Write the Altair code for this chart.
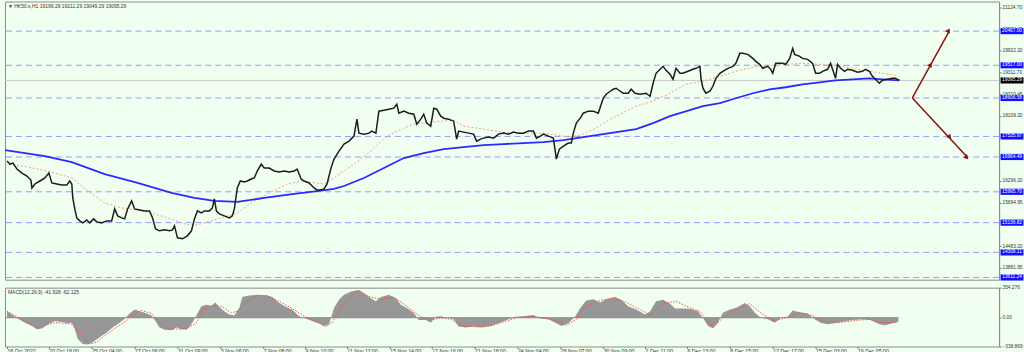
import altair as alt
import pandas as pd

# ---------------- data ----------------
price_x = [2, 5, 8, 12, 17, 22, 26, 27, 30, 35, 40, 44, 47, 52, 57, 62, 65, 67, 68, 70, 72, 75, 78, 82, 85, 89,
           92, 97, 102, 107, 110, 113, 117, 120, 123, 127, 130, 135, 140, 145, 148, 151, 155, 160, 165, 168, 170,
           173, 178, 183, 187, 190, 193, 197, 200, 205, 208, 210, 212, 215, 220, 225, 228, 230, 233, 236, 240,
           243, 247, 250, 253, 257, 260, 265, 270, 275, 280, 285, 290, 293, 297, 300, 305, 310, 313, 317, 320,
           323, 327, 330, 335, 340, 345, 350, 353, 355, 360, 365, 368, 372, 375, 380, 385, 390, 393, 395, 400,
           405, 410, 413, 417, 420, 423, 427, 430, 433, 437, 440, 445, 450, 453, 455, 460, 465, 470, 473, 477,
           480, 485, 490, 495, 500, 505, 510, 515, 520, 525, 530, 533, 537, 540, 545, 550, 553, 556, 560, 565,
           568, 570, 573, 577, 580, 585, 590, 595, 598, 600, 603, 607, 610, 613, 617, 620, 625, 628, 632, 637,
           643, 647, 650, 653, 657, 660, 663, 667, 670, 673, 677, 680, 685, 690, 693, 697, 698, 700, 703, 707,
           710, 713, 717, 720, 725, 730, 733, 737, 740, 745, 750, 753, 757, 760, 765, 768, 770, 773, 777, 780,
           783, 787, 790, 792, 797, 800, 805, 810, 813, 817, 820, 825, 828, 830, 833, 835, 838, 842, 845, 850,
           855, 860, 863, 867, 870, 873, 877, 880, 885, 890, 893, 897]
price_v = [16851, 16768, 16795, 16629, 16518, 16435, 16324, 16102, 16213, 16296, 16379, 16518, 16241, 16213,
           16185, 16185, 16296, 16213, 15824, 15519, 15269, 15186, 15131, 15214, 15131, 15242, 15158, 15131,
           15186, 15186, 15519, 15325, 15269, 15242, 15519, 15741, 15519, 15491, 15464, 15464, 15269, 14964,
           14909, 14936, 14909, 14936, 15047, 14714, 14687, 14770, 14909, 15242, 15464, 15408, 15464, 15464,
           15547, 15797, 15464, 15380, 15325, 15269, 15325, 15519, 16102, 16296, 16268, 16296, 16352, 16379,
           16574, 16768, 16657, 16657, 16574, 16546, 16574, 16546, 16574, 16629, 16352, 16296, 16241, 16102,
           16046, 16046, 16074, 16213, 16657, 16907, 17129, 17323, 17406, 17545, 18017, 17628, 17600, 17628,
           17684, 17628, 18239, 18266, 18294, 18322, 18433, 18183, 18239, 18183, 18155, 17878, 18017, 18155,
           17906, 17822, 18322, 18294, 18100, 18044, 18017, 17961, 17462, 17684, 17656, 17628, 17600, 17406,
           17462, 17489, 17517, 17489, 17600, 17628, 17600, 17656, 17628, 17628, 17684, 17684, 17489, 17545,
           17600, 17545, 17489, 16907, 17184, 17267, 17351, 17351, 17628, 17906, 18044, 18183, 18239, 18239,
           18183, 18433, 18599, 18710, 18794, 18849, 18877, 18794, 18738, 18738, 18849, 18738, 18710, 18738,
           18655, 19016, 19293, 19404, 19487, 19376, 19265, 19127, 19432, 19293, 19293, 19349, 19404, 19432,
           19487, 19154, 18877, 18738, 18794, 18932, 19154, 19293, 19349, 19432, 19487, 19571, 19848, 19848,
           19820, 19709, 19626, 19543, 19432, 19487, 19404, 19293, 19571, 19571, 19571, 19543, 19709, 19987,
           19820, 19765, 19709, 19682, 19571, 19293, 19293, 19349, 19404, 19571, 19404, 19154, 19543, 19432,
           19349, 19404, 19376, 19321, 19349, 19404, 19349, 19210, 19127, 19016, 19099, 19127, 19154, 19154,
           19095.29]

ma200_x = [0, 40, 67, 100, 133, 167, 190, 210, 233, 260, 290, 315, 330, 340, 360, 380, 400, 420, 440, 460, 480,
           500, 540, 560, 580, 600, 633, 650, 667, 700, 717, 733, 750, 767, 783, 800, 817, 833, 850, 867, 880, 897]
ma200_v = [17156, 16990, 16823, 16490, 16241, 15963, 15824, 15741, 15713, 15824, 15935, 16019, 16074, 16157,
           16379, 16657, 16934, 17073, 17184, 17240, 17295, 17323, 17378, 17434, 17517, 17600, 17739, 17906,
           18100, 18377, 18461, 18599, 18738, 18849, 18905, 18988, 19043, 19099, 19127, 19154, 19127, 19099]

ma50_x = [0, 17, 33, 50, 67, 83, 100, 117, 133, 150, 167, 183, 193, 200, 217, 233, 250, 267, 283, 297, 320, 333,
          350, 367, 383, 400, 410, 420, 437, 450, 460, 480, 500, 520, 540, 553, 567, 580, 593, 607, 617, 633, 650,
          667, 683, 700, 717, 733, 750, 767, 783, 800, 817, 833, 850, 867, 880, 893]
ma50_v = [16768, 16712, 16629, 16518, 16379, 16019, 15686, 15547, 15491, 15380, 15242, 15075, 15075, 15131,
          15269, 15408, 15741, 15991, 16213, 16296, 16213, 16435, 16768, 17129, 17545, 17767, 17878, 17906,
          17961, 17989, 17822, 17739, 17656, 17628, 17628, 17573, 17517, 17600, 17767, 18017, 18155, 18377,
          18516, 18738, 18988, 19071, 19210, 19349, 19460, 19515, 19543, 19571, 19543, 19515, 19432, 19349,
          19293, 19238]

macd_x = [2, 7, 13, 20, 27, 32, 37, 43, 50, 57, 63, 67, 70, 73, 78, 83, 88, 95, 102, 108, 115, 120, 125, 130,
          135, 140, 147, 152, 155, 160, 167, 172, 177, 182, 187, 192, 197, 202, 207, 211, 215, 220, 225, 230,
          235, 238, 245, 253, 262, 268, 275, 282, 288, 295, 302, 308, 315, 320, 325, 330, 335, 340, 347, 355,
          360, 367, 372, 377, 385, 392, 397, 403, 410, 415, 422, 427, 432, 437, 443, 450, 455, 462, 470, 478,
          487, 495, 503, 512, 520, 530, 537, 545, 552, 558, 565, 572, 577, 583, 590, 597, 603, 612, 618, 625,
          633, 642, 647, 653, 660, 667, 672, 680, 688, 695, 700, 705, 710, 715, 720, 727, 733, 742, 747, 752,
          758, 765, 772, 778, 785, 790, 797, 805, 812, 818, 825, 832, 840, 850, 860, 868, 877, 883, 890, 896]
macd_v = [77, 38, -12, -58, -96, -135, -127, -77, -38, -50, -65, -58, -135, -250, -308, -316, -289, -231, -173,
          -116, -58, -12, 50, 96, 77, 58, 27, -58, -116, -142, -146, -116, -135, -142, -77, 27, 135, 154, 142,
          181, 127, 77, 38, 27, 116, 243, 262, 270, 266, 243, 173, 127, 96, 19, -12, -38, -69, -96, -77, 116,
          212, 270, 308, 327, 289, 231, 193, 243, 270, 231, 154, 116, 58, -27, -27, -58, 12, 19, 0, -19, -104,
          -116, -104, -116, -96, -65, -27, 12, 19, 31, -12, -19, -58, -96, -65, 19, 116, 204, 219, 181, 219,
          243, 212, 135, 96, 38, 77, 193, 212, 166, 108, 108, 104, 77, 0, -96, -123, -58, 58, 96, 116, 173,
          135, 58, 0, -19, -58, 0, 12, 85, 65, 50, -19, -58, -77, -65, -46, -27, -19, -27, -77, -88, -65, -50]

signal_x = [2, 10, 20, 32, 40, 50, 60, 68, 77, 85, 92, 100, 110, 120, 128, 137, 147, 155, 163, 173, 183, 192,
            200, 208, 217, 227, 233, 242, 253, 263, 273, 287, 300, 313, 322, 328, 337, 347, 353, 367, 377, 390,
            403, 417, 428, 437, 447, 458, 473, 487, 500, 513, 527, 540, 553, 563, 573, 583, 597, 610, 623, 637,
            647, 660, 673, 687, 697, 710, 720, 733, 747, 760, 772, 783, 797, 810, 820, 837, 853, 867, 880, 893]
signal_v = [77, 27, -38, -116, -88, -58, -65, -77, -193, -308, -289, -212, -127, -50, 38, 85, 50, -58, -127,
            -135, -127, -58, 96, 142, 135, 58, 77, 193, 258, 258, 204, 116, 19, -50, -104, -58, 116, 250, 320,
            243, 219, 243, 135, 12, -27, 0, -19, -96, -108, -96, -50, 0, 19, 0, -38, -88, -19, 135, 204, 231,
            181, 96, 27, 166, 193, 116, 77, -116, 0, 88, 166, 38, -38, 0, 58, 27, -38, -58, -31, -19, -58, -58]

levels = [20467.00, 19517.00, 18606.58, 17535.97, 16964.49, 15995.70, 15136.82, 14309.11, 13611.24]
price_ticks = [21124.70, 20523.45, 19922.20, 19311.70, 18710.45, 18109.20, 16296.20, 15694.95, 14483.20, 13881.95]
last_price = [19095.29]

time_pos = [2, 44, 87, 130, 173, 216, 259, 301, 343, 386, 428, 471, 514, 557, 600, 642, 684, 727, 770, 813, 855]
time_labels = ["18 Oct 2022", "20 Oct 18:00", "25 Oct 04:00", "27 Oct 06:00", "31 Oct 09:00", "3 Nov 06:00",
               "7 Nov 08:00", "9 Nov 10:00", "11 Nov 12:00", "15 Nov 14:00", "17 Nov 16:00", "21 Nov 18:00",
               "24 Nov 04:00", "28 Nov 07:00", "30 Nov 09:00", "2 Dec 11:00", "6 Dec 13:00", "8 Dec 15:00",
               "12 Dec 17:00", "15 Dec 03:00", "19 Dec 05:00"]

arrow_id = ["up", "up", "down", "down"]
arrow_x = [910, 947, 910, 965]
arrow_v = [18606.58, 20467.00, 18606.58, 16964.49]
head_x = [928, 946, 947, 964]
head_v = [19517.00, 20467.00, 17535.97, 16964.49]
head_angle = [30, 30, 137, 137]

title_text = "\u25BC HK50.s,H1  19199.29 19211.29 19049.29 19095.29"
macd_text = "MACD(12,26,9) -41.928 -62.125"

# ---------------- chart ----------------
BG = "#f0fff0"
FONT = "Liberation Sans"
W = 997
X_DOM = [0, 997]
P_DOM = [13549, 21291]
M_DOM = [-338.869, 354.276]

xs = alt.Scale(domain=X_DOM, nice=False, zero=False)
ps = alt.Scale(domain=P_DOM, nice=False, zero=False)
ms = alt.Scale(domain=M_DOM, nice=False, zero=False)

df_price = pd.DataFrame({"x": price_x, "v": price_v})
df_ma200 = pd.DataFrame({"x": ma200_x, "v": ma200_v})
df_ma50 = pd.DataFrame({"x": ma50_x, "v": ma50_v})
df_lv = pd.DataFrame({"v": levels, "t": [f"{v:.2f}" for v in levels]})
df_last = pd.DataFrame({"v": last_price, "t": [f"{v:.2f}" for v in last_price]})
df_arrow = pd.DataFrame({"id": arrow_id, "x": arrow_x, "v": arrow_v})
df_head = pd.DataFrame({"x": head_x, "v": head_v, "a": head_angle})

yaxis_price = alt.Axis(orient="right", values=price_ticks, format=".2f", grid=False, tickSize=2,
                       tickColor="#777", domainColor="#8c8c8c", labelFontSize=4.8, labelFont=FONT,
                       labelColor="#333", labelPadding=1, title=None, labelOverlap=False)

X = alt.X("x:Q", scale=xs, axis=None)
Y = alt.Y("v:Q", scale=ps, axis=yaxis_price)

box_path = "M-1,-0.27L1,-0.27L1,0.27L-1,0.27Z"

lv_rules = alt.Chart(df_lv).mark_rule(color="#9a9aff", strokeDash=[6, 4], strokeWidth=1).encode(y=Y)
last_rule = alt.Chart(df_last).mark_rule(color="#c9c9c9", strokeWidth=1).encode(y=Y)
ma50 = alt.Chart(df_ma50).mark_line(color="#f2a07e", strokeDash=[2, 2], strokeWidth=1).encode(x=X, y=Y)
ma200 = alt.Chart(df_ma200).mark_line(color="#2a2aff", strokeWidth=1.8).encode(x=X, y=Y)
price = alt.Chart(df_price).mark_line(color="#1c1c1c", strokeWidth=1.5).encode(x=X, y=Y)
arrows = alt.Chart(df_arrow).mark_line(color="#8b1010", strokeWidth=1.5).encode(x=X, y=Y, detail="id:N")
heads = alt.Chart(df_head).mark_point(shape="triangle", filled=True, size=28, color="#8b1010", opacity=1).encode(
    x=X, y=Y, angle=alt.Angle("a:Q", scale=None))
lv_box = alt.Chart(df_lv).mark_point(shape=box_path, size=529, filled=True, color="#1010ff", opacity=1).encode(
    x=alt.value(1010), y=Y)
lv_txt = alt.Chart(df_lv).mark_text(color="white", fontSize=4.8, font=FONT, align="center", baseline="middle").encode(
    x=alt.value(1010), y=Y, text="t:N")
last_box = alt.Chart(df_last).mark_point(shape=box_path, size=529, filled=True, color="#000000", opacity=1).encode(
    x=alt.value(1010), y=Y)
last_txt = alt.Chart(df_last).mark_text(color="white", fontSize=4.8, font=FONT, align="center", baseline="middle").encode(
    x=alt.value(1010), y=Y, text="t:N")
title = alt.Chart(pd.DataFrame({"t": [title_text]})).mark_text(
    align="left", baseline="middle", fontSize=5, font=FONT, color="#333").encode(
    x=alt.value(3), y=alt.value(5), text="t:N")

price_panel = alt.layer(lv_rules, last_rule, ma50, ma200, price, arrows, heads,
                        lv_box, lv_txt, last_box, last_txt, title).properties(width=W, height=279)

label_expr = "[" + ",".join(f"'{t}'" for t in time_labels) + "][indexof([" + ",".join(
    str(p) for p in time_pos) + "], datum.value)]"
xaxis_time = alt.Axis(orient="bottom", values=time_pos, labelExpr=label_expr, grid=False, tickSize=2,
                      tickColor="#777", domain=False, labelFontSize=5.2, labelFont=FONT, labelColor="#333",
                      labelAlign="left", labelBaseline="top", labelPadding=0, labelFlush=False,
                      labelOverlap=False, title=None)
yaxis_macd = alt.Axis(orient="right", values=[354.276, 0, -338.869],
                      labelExpr="datum.value == 0 ? '0.00' : format(datum.value, '.3f')",
                      grid=False, tickSize=2, tickColor="#777", domainColor="#8c8c8c", labelFontSize=4.8,
                      labelFont=FONT, labelColor="#333", labelPadding=1, title=None, labelOverlap=False)

MX = alt.X("x:Q", scale=xs, axis=xaxis_time)
MY = alt.Y("v:Q", scale=ms, axis=yaxis_macd)

df_macd = pd.DataFrame({"x": macd_x, "v": macd_v})
df_sig = pd.DataFrame({"x": signal_x, "v": signal_v})
df_zero = pd.DataFrame({"x": [0], "x2": [macd_x[-1]], "v": [0]})

hist = alt.Chart(df_macd).mark_area(color="#979797", opacity=1).encode(
    x=MX, y=MY, y2=alt.datum(0))
zero = alt.Chart(df_zero).mark_rule(color="#8a8a8a", strokeWidth=1).encode(x=MX, x2="x2:Q", y=MY)
sig = alt.Chart(df_sig).mark_line(color="#ff4a4a", strokeDash=[1.5, 1.5], strokeWidth=1).encode(x=MX, y=MY)
mtitle = alt.Chart(pd.DataFrame({"t": [macd_text]})).mark_text(
    align="left", baseline="middle", fontSize=5, font=FONT, color="#333").encode(
    x=alt.value(3), y=alt.value(4), text="t:N")

macd_panel = alt.layer(hist, zero, sig, mtitle).properties(width=W, height=59)

chart = alt.vconcat(price_panel, macd_panel, spacing=2).properties(
    background=BG, padding=0
).configure_view(
    stroke="#8c8c8c", strokeWidth=1, fill=BG
)

chart.save("out.html", embed_options={"renderer": "svg", "actions": False})
